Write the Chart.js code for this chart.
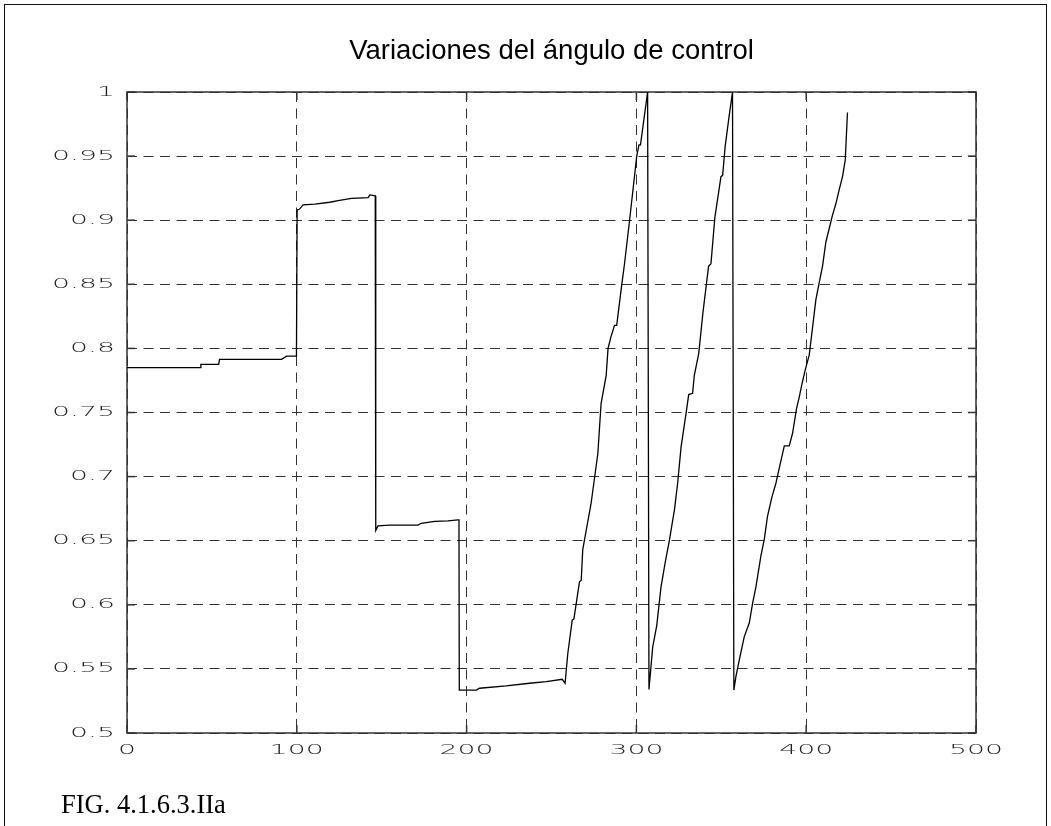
<!DOCTYPE html>
<html>
<head>
<meta charset="utf-8">
<title>Variaciones del ángulo de control</title>
<script src="https://cdn.jsdelivr.net/npm/chart.js@4/dist/chart.umd.min.js"></script>
<style>
  html, body { margin: 0; padding: 0; background: #fff; }
  #wrap { position: relative; width: 1051px; height: 826px; overflow: hidden; }
  #frame {
    position: absolute; left: 4px; top: 4px; width: 1043px; height: 840px;
    border: 1.5px solid #111; border-bottom: none; box-sizing: border-box;
  }
  #chart { position: absolute; left: 0; top: 0; }
  #caption {
    position: absolute; left: 61px; top: 791px;
    font-family: "Liberation Serif", "Times New Roman", serif;
    font-size: 26.5px; line-height: 26px; color: #000; white-space: nowrap;
  }
</style>
</head>
<body>
<div id="wrap">
  <div id="frame"></div>
  <canvas id="chart" width="1051" height="826"></canvas>
  <div id="caption">FIG. 4.1.6.3.IIa</div>
</div>
<script>
// Sample instants of the control-angle record
const sampleX = [
  0, 43, 43.5, 54, 54.5, 91, 94, 99.8,
  100.2, 101.5, 103.7, 110.6, 119.4, 124.3, 132.2, 142, 143, 146.2,
  146.5, 147.8, 154.7, 171.4, 173.3, 181.2, 189, 194.9, 195.5,
  195.7, 205.7, 207.6, 223.3, 237, 246.9, 256.3, 258,
  259.6, 262.2, 263.2, 266.5, 267.5, 268.4, 273.3, 277.3, 279.2, 282.2, 283.3, 285,
  287.1, 288.4, 291.4, 293, 295.9, 300.2, 301.5, 302.4, 306.6,
  307.4, 309.6, 312, 314.5, 317.1, 319.4, 322.4, 324.3, 326.3, 329.2, 330.8, 333.1,
  334.1, 336.7, 339.2, 342.5, 343.9, 346.2, 349.8, 350.8, 352.3, 354.5, 356.6,
  357.4, 358.6, 360.6, 363.5, 366.5, 368.4, 370.4, 373.3, 375.3, 377.2, 379.8, 382.2,
  383.7, 387.1, 390, 392, 394.3, 395.9, 397.8, 399.4, 401.8, 405.7, 407.6, 409.6,
  411.6, 415.5, 417.5, 419.4, 421.4, 423, 424.3
];

// Normalised control angle at each sample
const angleY = [
  0.785, 0.785, 0.7876, 0.7876, 0.7915, 0.7915, 0.794, 0.794,
  0.908, 0.9085, 0.9119, 0.9126, 0.914, 0.9152, 0.917, 0.9176, 0.9197, 0.919,
  0.658, 0.6615, 0.6622, 0.6622, 0.6636, 0.665, 0.6654, 0.6662, 0.6662,
  0.5335, 0.5335, 0.5349, 0.5367, 0.5388, 0.540, 0.5419, 0.5388,
  0.562, 0.588, 0.589, 0.618, 0.619, 0.643, 0.679, 0.718, 0.757, 0.779, 0.8, 0.809,
  0.818, 0.818, 0.85, 0.866, 0.899, 0.95, 0.9587, 0.9587, 1.0,
  0.534, 0.567, 0.584, 0.614, 0.634, 0.650, 0.674, 0.695, 0.723, 0.749, 0.764, 0.765,
  0.779, 0.796, 0.828, 0.864, 0.866, 0.902, 0.934, 0.935, 0.958, 0.98, 1.0,
  0.5335, 0.544, 0.557, 0.575, 0.586, 0.601, 0.614, 0.638, 0.651, 0.669, 0.684, 0.695,
  0.704, 0.724, 0.724, 0.734, 0.753, 0.762, 0.774, 0.783, 0.795, 0.838, 0.851, 0.864,
  0.883, 0.904, 0.913, 0.9236, 0.934, 0.947, 0.984
];

// Axis ticks and their printed labels
const xTickValues = [0, 100, 200, 300, 400, 500];
const xTickLabels = ['0', '100', '200', '300', '400', '500'];
const yTickValues = [0.5, 0.55, 0.6, 0.65, 0.7, 0.75, 0.8, 0.85, 0.9, 0.95, 1];
const yTickLabels = ['0.5', '0.55', '0.6', '0.65', '0.7', '0.75', '0.8', '0.85', '0.9', '0.95', '1'];

const points = sampleX.map((x, i) => ({ x: x, y: angleY[i] }));

// Solid plot frame, inward tick marks and wide plotter-style tick labels
const plotterAxes = {
  id: 'plotterAxes',
  beforeDatasetsDraw(chart) {
    const ctx = chart.ctx;
    const a = chart.chartArea;
    const xs = chart.scales.x, ys = chart.scales.y;
    ctx.save();
    ctx.setLineDash([]);
    ctx.strokeStyle = '#333';
    ctx.lineWidth = 1.5;
    ctx.strokeRect(a.left, a.top, a.right - a.left, a.bottom - a.top);

    const seg = (x1, y1, x2, y2) => { ctx.beginPath(); ctx.moveTo(x1, y1); ctx.lineTo(x2, y2); ctx.stroke(); };
    const mark = 8;
    xTickValues.forEach(v => {
      const px = xs.getPixelForValue(v);
      seg(px, a.bottom, px, a.bottom - mark);
      seg(px, a.top, px, a.top + mark);
    });
    yTickValues.forEach(v => {
      const py = ys.getPixelForValue(v);
      seg(a.left, py, a.left + mark, py);
      seg(a.right, py, a.right - mark, py);
    });

    ctx.fillStyle = '#222';
    ctx.font = '200 13.8px "DejaVu Sans", sans-serif';
    ctx.textBaseline = 'middle';
    const stretch = 2.05;
    yTickValues.forEach((v, i) => {
      const py = ys.getPixelForValue(v);
      ctx.save();
      ctx.translate(a.left - 12, py);
      ctx.scale(stretch, 1);
      ctx.textAlign = 'right';
      ctx.fillText(yTickLabels[i], 0, 0);
      ctx.restore();
    });
    xTickValues.forEach((v, i) => {
      const px = xs.getPixelForValue(v);
      ctx.save();
      ctx.translate(px, a.bottom + 17.5);
      ctx.scale(stretch, 1);
      ctx.textAlign = 'center';
      ctx.fillText(xTickLabels[i], 0, 0);
      ctx.restore();
    });
    ctx.restore();
  }
};

new Chart(document.getElementById('chart'), {
  type: 'scatter',
  data: {
    datasets: [{
      data: points,
      showLine: true,
      borderColor: '#000',
      borderWidth: 1.3,
      pointRadius: 0,
      tension: 0,
      fill: false
    }]
  },
  options: {
    responsive: false,
    animation: false,
    devicePixelRatio: 1,
    layout: { padding: { left: 127, right: 75, top: 0, bottom: 93 } },
    plugins: {
      legend: { display: false },
      tooltip: { enabled: false },
      title: {
        display: true,
        text: 'Variaciones del ángulo de control',
        color: '#000',
        font: { family: '"Liberation Sans", Arial, sans-serif', size: 27.5, weight: 'normal', lineHeight: 1.2 },
        padding: { top: 35, bottom: 24 }
      }
    },
    scales: {
      x: {
        type: 'linear',
        min: 0,
        max: 500,
        afterBuildTicks: s => { s.ticks = xTickValues.map(v => ({ value: v })); },
        afterFit: s => { s.height = 0; },
        ticks: { display: false },
        grid: { color: '#333', lineWidth: 1, drawTicks: false },
        border: { display: false, dash: [10, 6.5] }
      },
      y: {
        type: 'linear',
        min: 0.5,
        max: 1,
        afterBuildTicks: s => { s.ticks = yTickValues.map(v => ({ value: v })); },
        afterFit: s => { s.width = 0; },
        ticks: { display: false },
        grid: { color: '#333', lineWidth: 1, drawTicks: false },
        border: { display: false, dash: [10, 6.5] }
      }
    }
  },
  plugins: [plotterAxes]
});
</script>
</body>
</html>
